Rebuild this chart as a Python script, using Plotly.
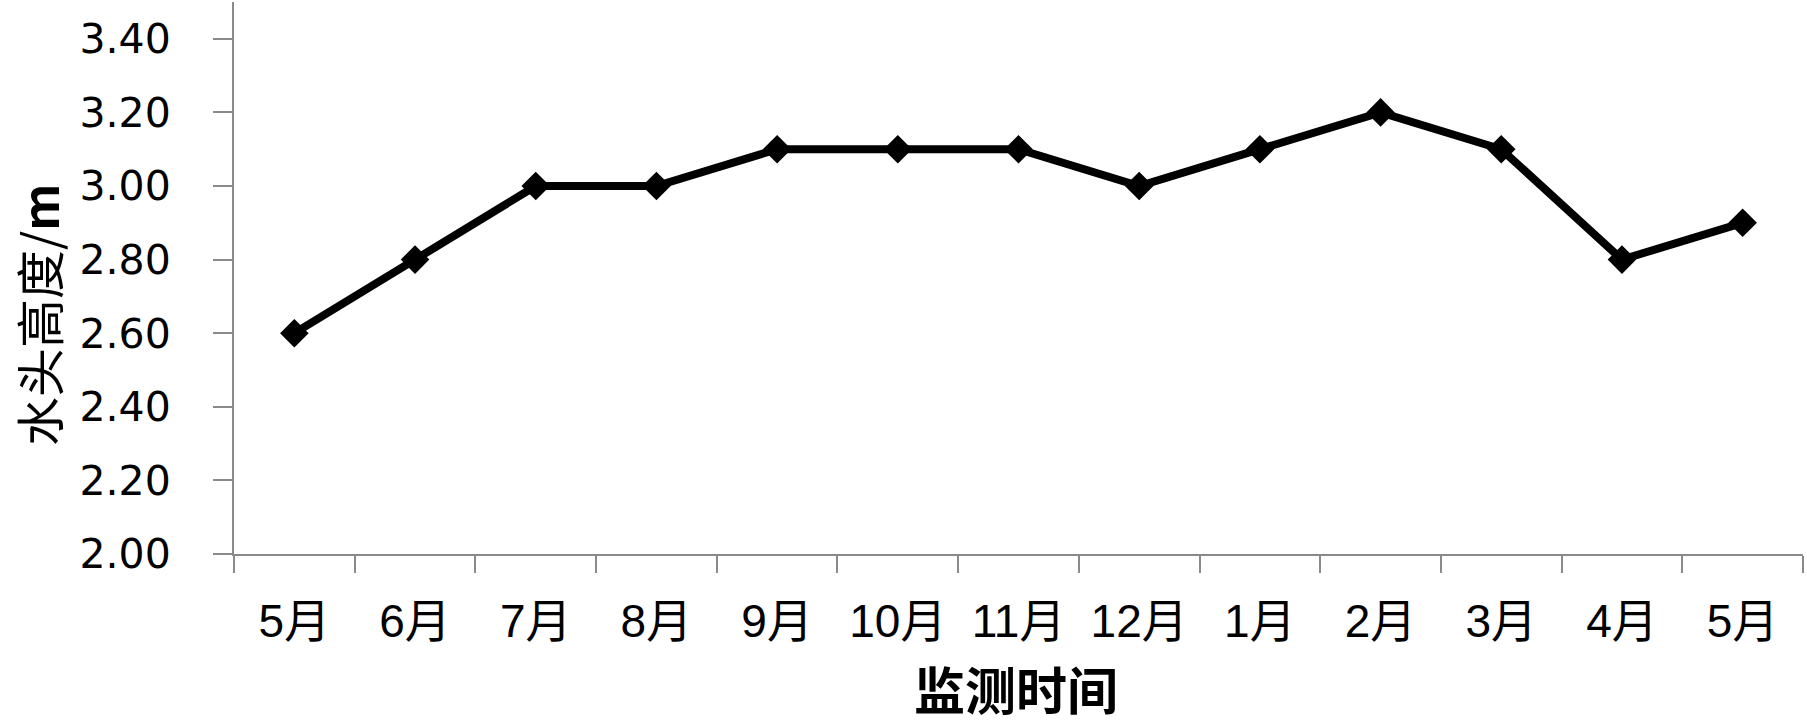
import plotly.graph_objects as go

months = ["5月", "6月", "7月", "8月", "9月", "10月", "11月", "12月", "1月", "2月", "3月", "4月", "5月"]
head_height = [2.60, 2.80, 3.00, 3.00, 3.10, 3.10, 3.10, 3.00, 3.10, 3.20, 3.10, 2.80, 2.90]
y_ticks = [2.00, 2.20, 2.40, 2.60, 2.80, 3.00, 3.20, 3.40]

x_idx = list(range(len(months)))
boundaries = [i - 0.5 for i in range(len(months) + 1)]

fig = go.Figure()
fig.add_trace(go.Scatter(
    x=x_idx, y=head_height, mode="lines+markers",
    line=dict(color="black", width=8),
    marker=dict(symbol="diamond", size=22, color="black"),
    showlegend=False,
))

axis_gray = "#8a8a8a"
fig.update_layout(
    width=1807, height=728,
    margin=dict(l=234, r=4, t=2, b=174),
    paper_bgcolor="white", plot_bgcolor="white",
    xaxis=dict(
        range=[-0.5, len(months) - 0.5],
        tickmode="array", tickvals=x_idx, ticktext=months,
        ticks="", showgrid=False, zeroline=False,
        showline=True, linecolor=axis_gray, linewidth=2,
        tickfont=dict(family="Liberation Sans, Noto Sans CJK SC", size=46, color="black"),
        ticklabelstandoff=26,
        minor=dict(tickmode="array", tickvals=boundaries, ticks="outside",
                   ticklen=17, tickwidth=2, tickcolor=axis_gray, showgrid=False),
    ),
    yaxis=dict(
        range=[2.0, 3.5],
        tickmode="array", tickvals=y_ticks,
        ticktext=[f"{v:.2f}" for v in y_ticks],
        ticks="outside", ticklen=19, tickwidth=2, tickcolor=axis_gray,
        showgrid=False, zeroline=False,
        showline=True, linecolor=axis_gray, linewidth=2,
        tickfont=dict(family="DejaVu Sans", size=41, color="black"),
        ticklabelstandoff=34,
    ),
    annotations=[
        dict(text="<b>监测时间</b>", xref="paper", yref="paper",
             x=0.4985, y=-0.2428, xanchor="center", yanchor="middle",
             showarrow=False,
             font=dict(family="Noto Sans CJK SC", size=51, color="black")),
        dict(text="水头高度/<b>m</b>", xref="paper", yref="paper",
             x=-0.1249, y=0.433, xanchor="center", yanchor="middle",
             textangle=-90, showarrow=False,
             font=dict(family="Noto Sans CJK SC", size=49, color="black")),
    ],
)

fig.write_html("out.html",
               config={"displayModeBar": False},
               post_script="document.body.style.margin='0';document.body.style.padding='0';")
